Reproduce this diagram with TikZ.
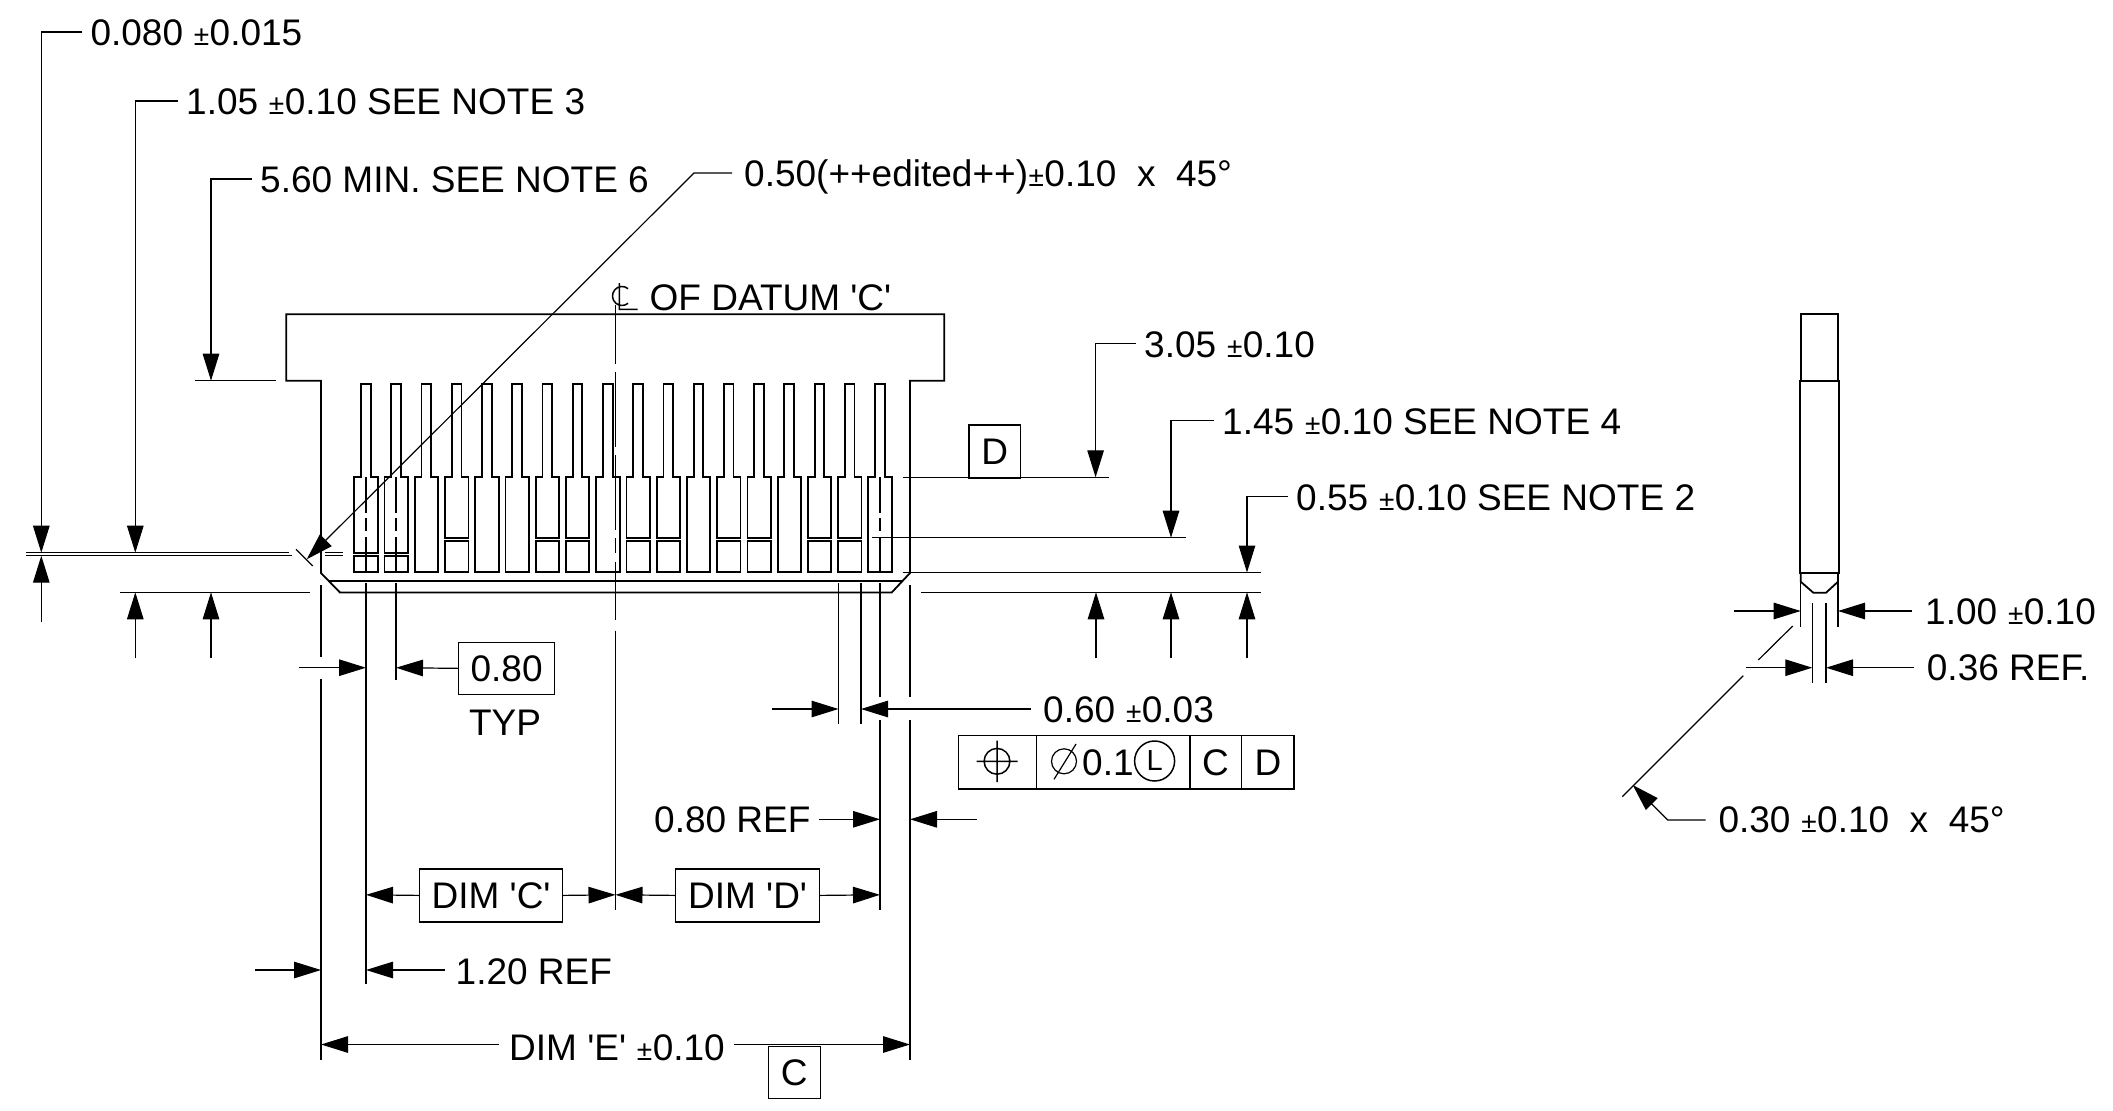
\documentclass[tikz,border=0pt]{standalone}
\usepackage{fontspec}
\newfontfamily\dimfamily{Liberation Sans}
\usepackage{tikz}
\usetikzlibrary{arrows.meta}
\newcommand{\dimfont}{\dimfamily\fontsize{37}{40}\selectfont}
\newcommand{\smallpm}{{\fontsize{28}{28}\selectfont\hspace{0.5pt}±\hspace{0.5pt}}}
\tikzset{
  % Line styles
  outline/.style={line width=1.8pt, line join=miter},
  thinline/.style={line width=1.2pt},
  % Arrow styles
  dimarrow/.style={thinline, -{Triangle[length=27pt,width=16.5pt]}},
  % Text styles
  dimtext/.style={font=\dimfont, inner sep=0pt, anchor=base west},
  framebox/.style={draw, line width=1.2pt, font=\dimfont, inner sep=0pt, anchor=north west, align=center}
}
\begin{document}
\begin{tikzpicture}[x=1pt,y=-1pt]
  \useasboundingbox (0,0) rectangle (2113,1111);

  % Connector body
  \draw[outline] (321,573) -- (321,380.7) -- (286.3,380.7) -- (286.3,314.3) -- (944.3,314.3) -- (944.3,380.7) -- (910,380.7) -- (910,573) -- (891.7,592.5) -- (340,592.5) -- cycle;
  \draw[outline] (328,581) -- (902,581);

  % Fingers
  \foreach \i/\split in {0/552.7, 1/552.7, 2/0, 3/537.7, 4/0, 5/0, 6/537.7, 7/537.7, 8/0, 9/537.7, 10/537.7, 11/0, 12/537.7, 13/537.7, 14/0, 15/537.7, 16/537.7, 17/0} {
    \pgfmathsetmacro{\fx}{354.3+\i*30.24}
    \draw[outline] (\fx,572) -- (\fx,477) -- ({\fx+6.7},477) -- ({\fx+6.7},384) -- ({\fx+16.4},384) -- ({\fx+16.4},477) -- ({\fx+23.4},477) -- ({\fx+23.4},572) -- cycle;
    \ifdim\split pt>0pt
      \fill[white] (\fx-1,\split+0.9) rectangle ({\fx+24.4},\split+2.1);
      \draw[outline] (\fx,\split) -- ({\fx+23.4},\split);
      \draw[outline] (\fx,\split+3) -- ({\fx+23.4},\split+3);
    \fi
  }

  % Centre lines
  \foreach \ya/\yb in {305/364, 372/447, 455/530, 538/553, 561.7/620, 630.7/910} {
    \draw[thinline] (615.5,\ya) -- (615.5,\yb);
  }
  \foreach \cx in {366,396,880} {
    \draw[thinline] (\cx,477) -- (\cx,513) (\cx,518) -- (\cx,531) (\cx,537) -- (\cx,572);
  }
  \node[dimtext] (datumtext) at (649.5,310) {OF DATUM 'C'};
  \draw[line width=1.5pt] (628.1,288.7) arc (310:50:9.5) (619.3,283) -- (619.3,309.3) -- (637.7,309.3);

  % Extension lines, left
  \draw[thinline] (26,552.7) -- (288.7,552.7) (325,552.7) -- (343,552.7);
  \draw[thinline] (26,555.7) -- (291.7,555.7) (325,555.7) -- (343,555.7);
  \draw[thinline] (120,592.3) -- (310,592.3);
  \draw[thinline] (195,380.7) -- (275.6,380.7);
  \draw[thinline] (296,549.3) -- (312.7,566);

  % Extension lines, right
  \draw[thinline] (902.7,477.3) -- (1109,477.3);
  \draw[thinline] (872.3,537.7) -- (1186,537.7);
  \draw[thinline] (902.7,572.5) -- (1261,572.5);
  \draw[thinline] (921,592.3) -- (1261,592.3);

  % Extension lines, below
  \draw[thinline] (321,585) -- (321,656.7) (321,679) -- (321,1060);
  \draw[outline] (366,583) -- (366,984);
  \draw[thinline] (396,583) -- (396,680);
  \draw[thinline] (838.5,583) -- (838.5,724.3);
  \draw[thinline] (861,583) -- (861,724.3);
  \draw[outline] (880,583) -- (880,697) (880,720) -- (880,910);
  \draw[thinline] (910,585) -- (910,697) (910,720) -- (910,1060);

  % Left callouts
  \foreach \tname/\lx/\ly/\ty/\tx/\ttext in {
      tolA/41.3/32/552.7/90.3/{0.080 \smallpm0.015},
      tolB/135.3/101/552.7/186/{1.05 \smallpm0.10 SEE NOTE 3},
      tolC/211/179/380.7/260/{5.60 MIN. SEE NOTE 6},
      tolD/1095.6/343.6/477.3/1144/{3.05 \smallpm0.10},
      tolE/1171/420.5/537.7/1222/{1.45 \smallpm0.10 SEE NOTE 4},
      tolF/1247/496.5/572.5/1296/{0.55 \smallpm0.10 SEE NOTE 2}} {
    \node[dimtext] (\tname) at (\tx,\ly+13.5) {\ttext};
    \draw[dimarrow] ([xshift=-8pt]\tname.west |- 0,\ly) -- (\lx,\ly) -- (\lx,\ty);
  }
  \draw[dimarrow] (41.3,622.3) -- (41.3,555.7);
  \foreach \lx in {135.3,211,1096,1171,1247} {
    \draw[dimarrow] (\lx,658.3) -- (\lx,592.3);
  }

  % Chamfer callout
  \node[dimtext] (chamfertext) at (744,186) {0.50(++edited++)\smallpm0.10\ \ x\ \ 45°};
  \draw[dimarrow] (732,173) -- (694,173) -- (306.7,559.3);

  % Datum D
  \node[framebox, minimum width=51.7pt, minimum height=53pt] (datumD) at (968.3,424.3) {D};

  % Pitch
  \node[framebox, minimum width=96pt, minimum height=52.5pt] (pitchbox) at (458,641.5) {0.80};
  \node[font=\dimfont, inner sep=0pt, anchor=base] (typtext) at (505,735) {TYP};
  \draw[dimarrow] (299.3,667.7) -- (366,667.7);
  \draw[dimarrow] (pitchbox.west) -- (396,667.7);

  % Width
  \node[dimtext] (widthtext) at (1043,722.7) {0.60 \smallpm0.03};
  \draw[dimarrow] (772,709) -- (838.5,709);
  \draw[dimarrow] (1031,709) -- (861,709);

  % Tolerance frame
  \draw[thinline] (958.2,735.7) rectangle (1294,789);
  \foreach \dx in {1036.8,1190,1241.8} {
    \draw[thinline] (\dx,735.7) -- (\dx,789);
  }
  \draw[line width=1.5pt] (997,761.3) circle (12.9pt) (976.5,761.3) -- (1017.5,761.3) (997,740.6) -- (997,782);
  \draw[line width=1.2pt] (1064,761.3) circle (12.5pt) (1054,779.3) -- (1076,744);
  \node[dimtext] (phitext) at (1082,775) {0.1};
  \draw[line width=1.5pt] (1154.6,761) circle (20pt);
  \node[font=\dimfamily\fontsize{29}{30}\selectfont, inner sep=0pt] (lettL) at (1154.6,761) {L};
  \node[font=\dimfont, inner sep=0pt, anchor=base] (datumC) at (1215.5,775) {C};
  \node[font=\dimfont, inner sep=0pt, anchor=base] (datumDref) at (1268,775) {D};

  % Reference dims
  \node[dimtext] (reftext) at (654,832.7) {0.80 REF};
  \draw[dimarrow] (818.6,819.3) -- (880,819.3);
  \draw[dimarrow] (976.8,819.3) -- (910,819.3);

  % Dim boxes
  \node[framebox, minimum width=143pt, minimum height=53pt] (dimC) at (419,868.3) {DIM 'C'};
  \node[framebox, minimum width=144pt, minimum height=53pt] (dimD) at (675,868.3) {DIM 'D'};
  \draw[dimarrow] (dimC.west) -- (366,894.8);
  \draw[dimarrow] (dimC.east) -- (615.5,894.8);
  \draw[dimarrow] (dimD.west) -- (615.5,894.8);
  \draw[dimarrow] (dimD.east) -- (880,894.8);

  \node[dimtext] (ledgetext) at (455.5,984) {1.20 REF};
  \draw[dimarrow] (255,970) -- (321,970);
  \draw[dimarrow] (445,970) -- (366,970);

  % Overall width
  \node[dimtext] (dimE) at (509,1060) {DIM 'E' \smallpm0.10};
  \node[framebox, minimum width=51.5pt, minimum height=52.3pt] (datumCbox) at (768,1045.7) {C};
  \draw[dimarrow] (498.6,1044.5) -- (321,1044.5);
  \draw[dimarrow] (734,1044.5) -- (910,1044.5);

  % Side view
  \draw[outline] (1800.7,380.7) -- (1800.7,314.2) -- (1838,314.2) -- (1838,380.7);
  \draw[outline] (1800,380.7) rectangle (1838.7,573.3);
  \draw[outline] (1800.7,573.3) -- (1800.7,581.7) -- (1813.3,592.7) -- (1826,592.7) -- (1838,581.7) -- (1838,573.3);
  \draw[thinline] (1800.7,582.3) -- (1800.7,626.7) (1838,582.3) -- (1838,626.7);
  \draw[thinline] (1812.3,603.3) -- (1812.3,683.3) (1826,603.3) -- (1826,683.3);

  \node[dimtext] (sideA) at (1925,624) {1.00 \smallpm0.10};
  \draw[dimarrow] (1734,611) -- (1800.7,611);
  \draw[dimarrow] (1912.3,611) -- (1838,611);

  \node[dimtext] (sideB) at (1926.7,680.7) {0.36 REF.};
  \draw[dimarrow] (1746,667.7) -- (1812.3,667.7);
  \draw[dimarrow] (1914.3,667.7) -- (1826,667.7);

  \draw[thinline] (1622.3,796.7) -- (1743.3,675.7) (1758.3,660) -- (1792.7,626);
  \node[dimtext] (sideC) at (1718.3,832.7) {0.30 \smallpm0.10\ \ x\ \ 45°};
  \draw[dimarrow] (1705.7,820) -- (1667.7,820) -- (1632.7,785);
\end{tikzpicture}
\end{document}
